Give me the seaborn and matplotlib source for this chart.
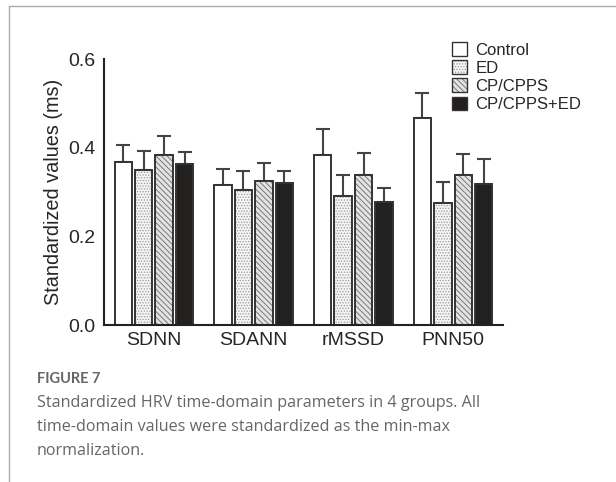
import matplotlib
matplotlib.use("Agg")
import matplotlib.pyplot as plt
import seaborn as sns
import pandas as pd
import numpy as np
from matplotlib.patches import Patch, Rectangle
from matplotlib.lines import Line2D

params = ["SDNN", "SDANN", "rMSSD", "PNN50"]
groups = ["Control", "ED", "CP/CPPS", "CP/CPPS+ED"]
control = [0.367, 0.316, 0.384, 0.467]
ed = [0.349, 0.305, 0.292, 0.275]
cp = [0.384, 0.324, 0.338, 0.338]
cp_ed = [0.363, 0.320, 0.278, 0.317]
control_err = [0.039, 0.036, 0.058, 0.057]
ed_err = [0.043, 0.042, 0.047, 0.047]
cp_err = [0.043, 0.041, 0.051, 0.048]
cp_ed_err = [0.027, 0.028, 0.030, 0.057]

means = [control, ed, cp, cp_ed]
errs = [control_err, ed_err, cp_err, cp_ed_err]

rows = []
for g, vals in zip(groups, means):
    for p, v in zip(params, vals):
        rows.append({"param": p, "group": g, "value": v})
df = pd.DataFrame(rows)

sns.set_style("white")
plt.rcParams["font.family"] = ["Liberation Sans", "DejaVu Sans"]
plt.rcParams["hatch.linewidth"] = 0.6

faces = {"Control": "#ffffff", "ED": "#f4f4f4", "CP/CPPS": "#e2e2e2", "CP/CPPS+ED": "#231f20"}
hatches = {"Control": "", "ED": "......", "CP/CPPS": "\\\\\\\\\\\\", "CP/CPPS+ED": ""}
hatch_cols = {"Control": "#333333", "ED": "#9a9a9a", "CP/CPPS": "#6a6a6a", "CP/CPPS+ED": "#333333"}
edge = "#333333"

fig = plt.figure(figsize=(6.16, 4.82), dpi=100)
ax = fig.add_axes([104 / 616, 1 - 325 / 482, (503 - 104) / 616, (325 - 59) / 482])

sns.barplot(data=df, x="param", y="value", hue="group", order=params, hue_order=groups,
            palette=faces, width=0.82, gap=0.15, edgecolor=edge, linewidth=1.4,
            errorbar=None, legend=False, ax=ax)

for cont, g, e in zip(ax.containers, groups, errs):
    xs, hs = [], []
    for patch in cont.patches:
        x0, w, h = patch.get_x(), patch.get_width(), patch.get_height()
        if hatches[g]:
            patch.set_hatch(hatches[g])
            patch.set_edgecolor(hatch_cols[g])
            patch.set_linewidth(0)
            ax.add_patch(Rectangle((x0, 0), w, h, fill=False, edgecolor=edge, lw=1.4, zorder=patch.get_zorder() + 0.1))
        xs.append(x0 + w / 2)
        hs.append(h)
    ax.errorbar(xs, hs, yerr=[np.zeros(len(e)), e], fmt="none", ecolor="#444444",
                elinewidth=1.5, capsize=5, capthick=1.5, zorder=0)

ax.set_xlim(-0.5, 3.5)
ax.set_ylim(0, 0.6)
ax.set_yticks([0.0, 0.2, 0.4, 0.6])
ax.set_yticklabels(["0.0", "0.2", "0.4", "0.6"])
ax.tick_params(axis="both", labelsize=14, length=4, width=1.2, color="#222222", pad=2, direction="out")
ax.tick_params(axis="x", length=3)
ax.set_xlabel("")
ax.set_ylabel("Standardized values (ms)", fontsize=14.3, labelpad=4)
for s in ["top", "right"]:
    ax.spines[s].set_visible(False)
for s in ["left", "bottom"]:
    ax.spines[s].set_linewidth(1.5)
    ax.spines[s].set_color("#222222")

handles = []
for g in groups:
    if hatches[g]:
        handles.append((Patch(facecolor=faces[g], edgecolor=hatch_cols[g], hatch=hatches[g], linewidth=0),
                        Patch(fill=False, edgecolor=edge, linewidth=1.0)))
    else:
        handles.append(Patch(facecolor=faces[g], edgecolor=edge, linewidth=1.0))
leg = ax.legend(handles, groups, loc="upper left", bbox_to_anchor=(452 / 616, 1 - 42 / 482),
                bbox_transform=fig.transFigure, frameon=False, fontsize=12,
                handlelength=0.9, handleheight=0.9, handletextpad=0.5, labelspacing=0.15,
                borderpad=0, borderaxespad=0)

# page frame lines
fig.add_artist(Line2D([9 / 616, 9 / 616], [0, 1 - 6 / 482], transform=fig.transFigure, color="#aaaaaa", lw=1))
fig.add_artist(Line2D([9 / 616, 1], [1 - 6 / 482, 1 - 6 / 482], transform=fig.transFigure, color="#aaaaaa", lw=1))

fig.text(37 / 616, 1 - 379 / 482, "FIGURE 7", fontsize=10.5, color="#666666", va="center",
         family=["Lato", "DejaVu Sans"], fontweight="bold")
caption = ["Standardized HRV time-domain parameters in 4 groups. All",
           "time-domain values were standardized as the min-max",
           "normalization."]
for i, line in enumerate(caption):
    fig.text(37 / 616, 1 - (403 + 24 * i) / 482, line, fontsize=11.6, color="#666666", va="center",
             family=["Open Sans", "DejaVu Sans"])

fig.savefig("out.png", dpi=100)
